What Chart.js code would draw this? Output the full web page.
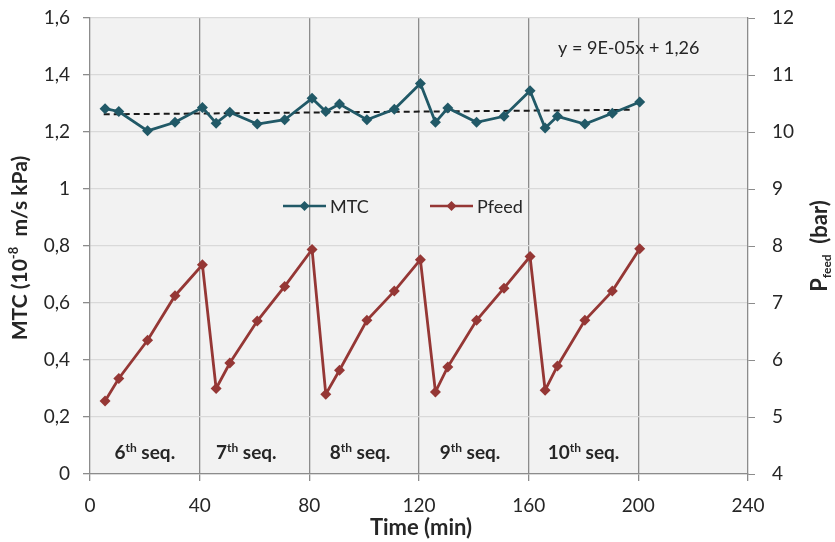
<!DOCTYPE html>
<html><head><meta charset="utf-8">
<script src="https://cdn.jsdelivr.net/npm/chart.js@4"></script>
<style>html,body{margin:0;padding:0;background:#fff;}#wrap{width:835px;height:542px;}</style>
</head><body><div id="wrap"><canvas id="c" width="835" height="542"></canvas></div>
<script>
// ---- data ----
const timeMin = [5.5, 10.5, 21, 31, 41, 46, 51, 61, 71, 81, 86, 91, 101, 111, 120.5, 126, 130.5, 141, 151, 160.5, 166, 170.5, 180.5, 190.5, 200.5];
const mtc = [1.282, 1.272, 1.204, 1.234, 1.286, 1.231, 1.269, 1.228, 1.243, 1.318, 1.272, 1.298, 1.243, 1.280, 1.370, 1.234, 1.284, 1.234, 1.255, 1.345, 1.214, 1.255, 1.228, 1.266, 1.305];
const pfeed = [5.28, 5.675, 6.346, 7.128, 7.671, 5.50, 5.948, 6.684, 7.291, 7.939, 5.40, 5.82, 6.696, 7.209, 7.76, 5.44, 5.878, 6.696, 7.26, 7.816, 5.47, 5.896, 6.696, 7.209, 7.95];
const trendTime = [5, 198];
const trendMtc = [1.262, 1.278];
const seqNumbers = ['6', '7', '8', '9', '10'];
const seqCenters = [20, 57, 98.5, 138.6, 180];
const seqLevel = 0.074;
const equationText = 'y = 9E-05x + 1,26';
const seriesNames = ['MTC', 'Pfeed'];
const xLabel = 'Time (min)';

const FONT = 'Lato, "Open Sans", sans-serif';
const C_MTC = '#215967';
const C_PF = '#953735';
const AX = '#8c8c8c';
const TXT = '#262626';

function drawRich(ctx, parts, x, y, align) {
  let total = 0;
  parts.forEach(p => { ctx.font = `${p.w || 'normal'} ${p.s}px ${FONT}`; p.mw = ctx.measureText(p.t).width; total += p.mw; });
  let cx = align === 'center' ? x - total / 2 : (align === 'right' ? x - total : x);
  ctx.textAlign = 'left'; ctx.textBaseline = 'alphabetic';
  parts.forEach(p => { ctx.font = `${p.w || 'normal'} ${p.s}px ${FONT}`; ctx.fillText(p.t, cx, y + (p.dy || 0)); cx += p.mw; });
}

function diamond(ctx, x, y, r, color) {
  ctx.beginPath(); ctx.moveTo(x, y - r); ctx.lineTo(x + r, y); ctx.lineTo(x, y + r); ctx.lineTo(x - r, y); ctx.closePath();
  ctx.fillStyle = color; ctx.fill();
}

const deco = {
  id: 'deco',
  beforeDraw(chart) {
    const { ctx, chartArea: a } = chart;
    ctx.save();
    ctx.fillStyle = '#ffffff'; ctx.fillRect(0, 0, chart.width, chart.height);
    ctx.fillStyle = '#f2f2f2'; ctx.fillRect(a.left, a.top, a.right - a.left, a.bottom - a.top);
    ctx.restore();
  },
  afterDraw(chart) {
    const { ctx, chartArea: a, scales } = chart;
    const sx = scales.x, sy = scales.y;
    ctx.save();
    ctx.fillStyle = TXT;
    // sequence labels
    seqNumbers.forEach((n, i) => {
      drawRich(ctx, [{ t: n, s: 19, w: 'bold' }, { t: 'th', s: 12, w: 'bold', dy: -7 }, { t: ' seq.', s: 19, w: 'bold' }],
        sx.getPixelForValue(seqCenters[i]), sy.getPixelForValue(seqLevel) + 6, 'center');
    });
    // equation
    drawRich(ctx, [{ t: equationText, s: 18 }], a.left + 468, a.top + 36, 'left');
    // legend
    const ly = a.top + 188;
    const items = [{ x: a.left + 193, c: C_MTC, name: seriesNames[0] }, { x: a.left + 340, c: C_PF, name: seriesNames[1] }];
    items.forEach(it => {
      ctx.strokeStyle = it.c; ctx.lineWidth = 2.5;
      ctx.beginPath(); ctx.moveTo(it.x, ly); ctx.lineTo(it.x + 43, ly); ctx.stroke();
      diamond(ctx, it.x + 21.5, ly, 5, it.c);
      ctx.fillStyle = TXT;
      drawRich(ctx, [{ t: it.name, s: 18 }], it.x + 47, ly + 6.5, 'left');
    });
    // x title
    ctx.fillStyle = TXT;
    drawRich(ctx, [{ t: xLabel, s: 22, w: 'bold' }], (a.left + a.right) / 2 + 2, 535, 'center');
    // left title
    ctx.save();
    ctx.translate(27, 248);
    ctx.rotate(-Math.PI / 2);
    drawRich(ctx, [{ t: 'MTC (10', s: 21, w: 'bold' }, { t: '-8', s: 13, w: 'bold', dy: -9 }, { t: '  m/s kPa)', s: 21, w: 'bold' }], 0, 0, 'center');
    ctx.restore();
    // right title
    ctx.save();
    ctx.translate(827, 246);
    ctx.rotate(-Math.PI / 2);
    drawRich(ctx, [{ t: 'P', s: 22, w: 'bold' }, { t: 'feed', s: 12, w: 'bold', dy: 4 }, { t: '  (bar)', s: 22, w: 'bold' }], 0, 0, 'center');
    ctx.restore();
    ctx.restore();
  }
};

const fmt = v => (Math.round(v * 10) / 10).toString().replace('.', ',');
const tickFont = { size: 19, family: FONT };
const fixV = w => s => { s.width = w; s.paddingTop = 0; s.paddingBottom = 0; };

new Chart(document.getElementById('c'), {
  type: 'line',
  data: {
    datasets: [
      {
        label: seriesNames[0], yAxisID: 'y', order: 1,
        data: timeMin.map((t, i) => ({ x: t, y: mtc[i] })),
        borderColor: C_MTC, backgroundColor: C_MTC, borderWidth: 2.8,
        pointStyle: 'rectRot', pointRadius: 5.5, pointBorderWidth: 0, tension: 0
      },
      {
        label: seriesNames[1], yAxisID: 'y2', order: 2,
        data: timeMin.map((t, i) => ({ x: t, y: pfeed[i] })),
        borderColor: C_PF, backgroundColor: C_PF, borderWidth: 2.8,
        pointStyle: 'rectRot', pointRadius: 5.5, pointBorderWidth: 0, tension: 0
      },
      {
        label: 'trend', yAxisID: 'y', order: 3,
        data: trendTime.map((t, i) => ({ x: t, y: trendMtc[i] })),
        borderColor: '#1a1a1a', borderWidth: 2, borderDash: [6, 4], pointRadius: 0, tension: 0
      }
    ]
  },
  options: {
    responsive: false, animation: false, devicePixelRatio: 1,
    layout: { padding: { top: 18, left: 0, right: 0, bottom: 0 } },
    plugins: { legend: { display: false }, tooltip: { enabled: false } },
    scales: {
      x: {
        type: 'linear', min: 0, max: 240,
        ticks: { stepSize: 40, color: TXT, font: tickFont, padding: 13, maxRotation: 0 },
        grid: {
          color: c => (c.tick && (c.tick.value === 0 || c.tick.value === 240)) ? 'rgba(0,0,0,0)' : AX,
          lineWidth: 1.3, tickColor: AX, tickLength: 7
        },
        border: { color: AX, width: 1.3 },
        afterFit: s => { s.height = 68; s.paddingLeft = 0; s.paddingRight = 0; }
      },
      y: {
        position: 'left', min: 0, max: 1.6,
        ticks: { stepSize: 0.2, color: TXT, font: tickFont, padding: 13, callback: v => fmt(v) },
        grid: { color: '#d9d9d9', lineWidth: 1.3, tickColor: AX, tickLength: 7 },
        border: { color: AX, width: 1.3 },
        afterFit: fixV(90)
      },
      y2: {
        position: 'right', min: 4, max: 12,
        ticks: { stepSize: 1, color: TXT, font: tickFont, padding: 17 },
        grid: { drawOnChartArea: false, tickColor: AX, tickLength: 7 },
        border: { color: AX, width: 1.3 },
        afterFit: fixV(87)
      }
    }
  },
  plugins: [deco]
});
</script></body></html>
